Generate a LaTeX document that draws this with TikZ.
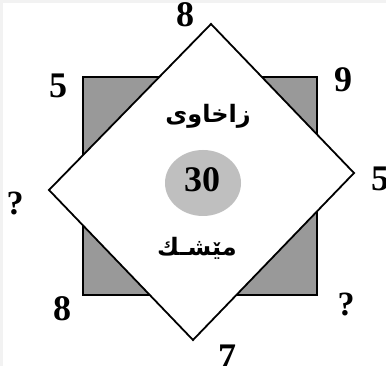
\documentclass[tikz,border=0pt]{standalone}
\usepackage{fontspec}
\setmainfont{Liberation Serif}
\newfontfamily\arabicfont[Script=Arabic]{DejaVu Sans}
\TeXXeTstate=1
\tikzset{
  num/.style={font=\fontsize{36}{38}\selectfont\bfseries, inner sep=0pt},
  ask/.style={font=\fontsize{34}{36}\selectfont\bfseries, inner sep=0pt},
  word/.style={font=\arabicfont\bfseries\fontsize{24}{26}\selectfont, inner sep=0pt}
}
\begin{document}
\begin{tikzpicture}[x=1pt, y=-1pt]
  % canvas with faint frame
  \fill[gray!10] (0,0) rectangle (386,366);
  \fill[white] (3,3) rectangle (386,366);
  \useasboundingbox (0,0) rectangle (386,366);
  % Gray square behind
  \filldraw[fill=black!40, line width=1.8pt] (83,77) rectangle (317,295);
  % Tilted white diamond
  \filldraw[fill=white, line width=1.8pt, line join=miter]
    (211,24) -- (354,173) -- (193,340) -- (49,190) -- cycle;
  % Centre disc
  \fill[black!25] (203,183) ellipse (38 and 33);
  \node[num] (centre) at (202,180) {30};
  % Words inside the diamond
  \node[word] (upper) at (208,116) {\beginR زاخاوى\endR};
  \node[word] (lower) at (197,248) {\beginR مێشـك\endR};
  % Numbers round the figure
  \node[num] (top)    at (185,15)  {8};
  \node[num] (nw)     at (58,86)   {5};
  \node[num] (ne)     at (343,80)  {9};
  \node[ask] (west)   at (15,203)  {?};
  \node[num] (east)   at (380,179) {5};
  \node[num] (sw)     at (62,309)  {8};
  \node[ask] (se)     at (346,304) {?};
  \node[num] (bottom) at (227,357) {7};
\end{tikzpicture}
\end{document}
